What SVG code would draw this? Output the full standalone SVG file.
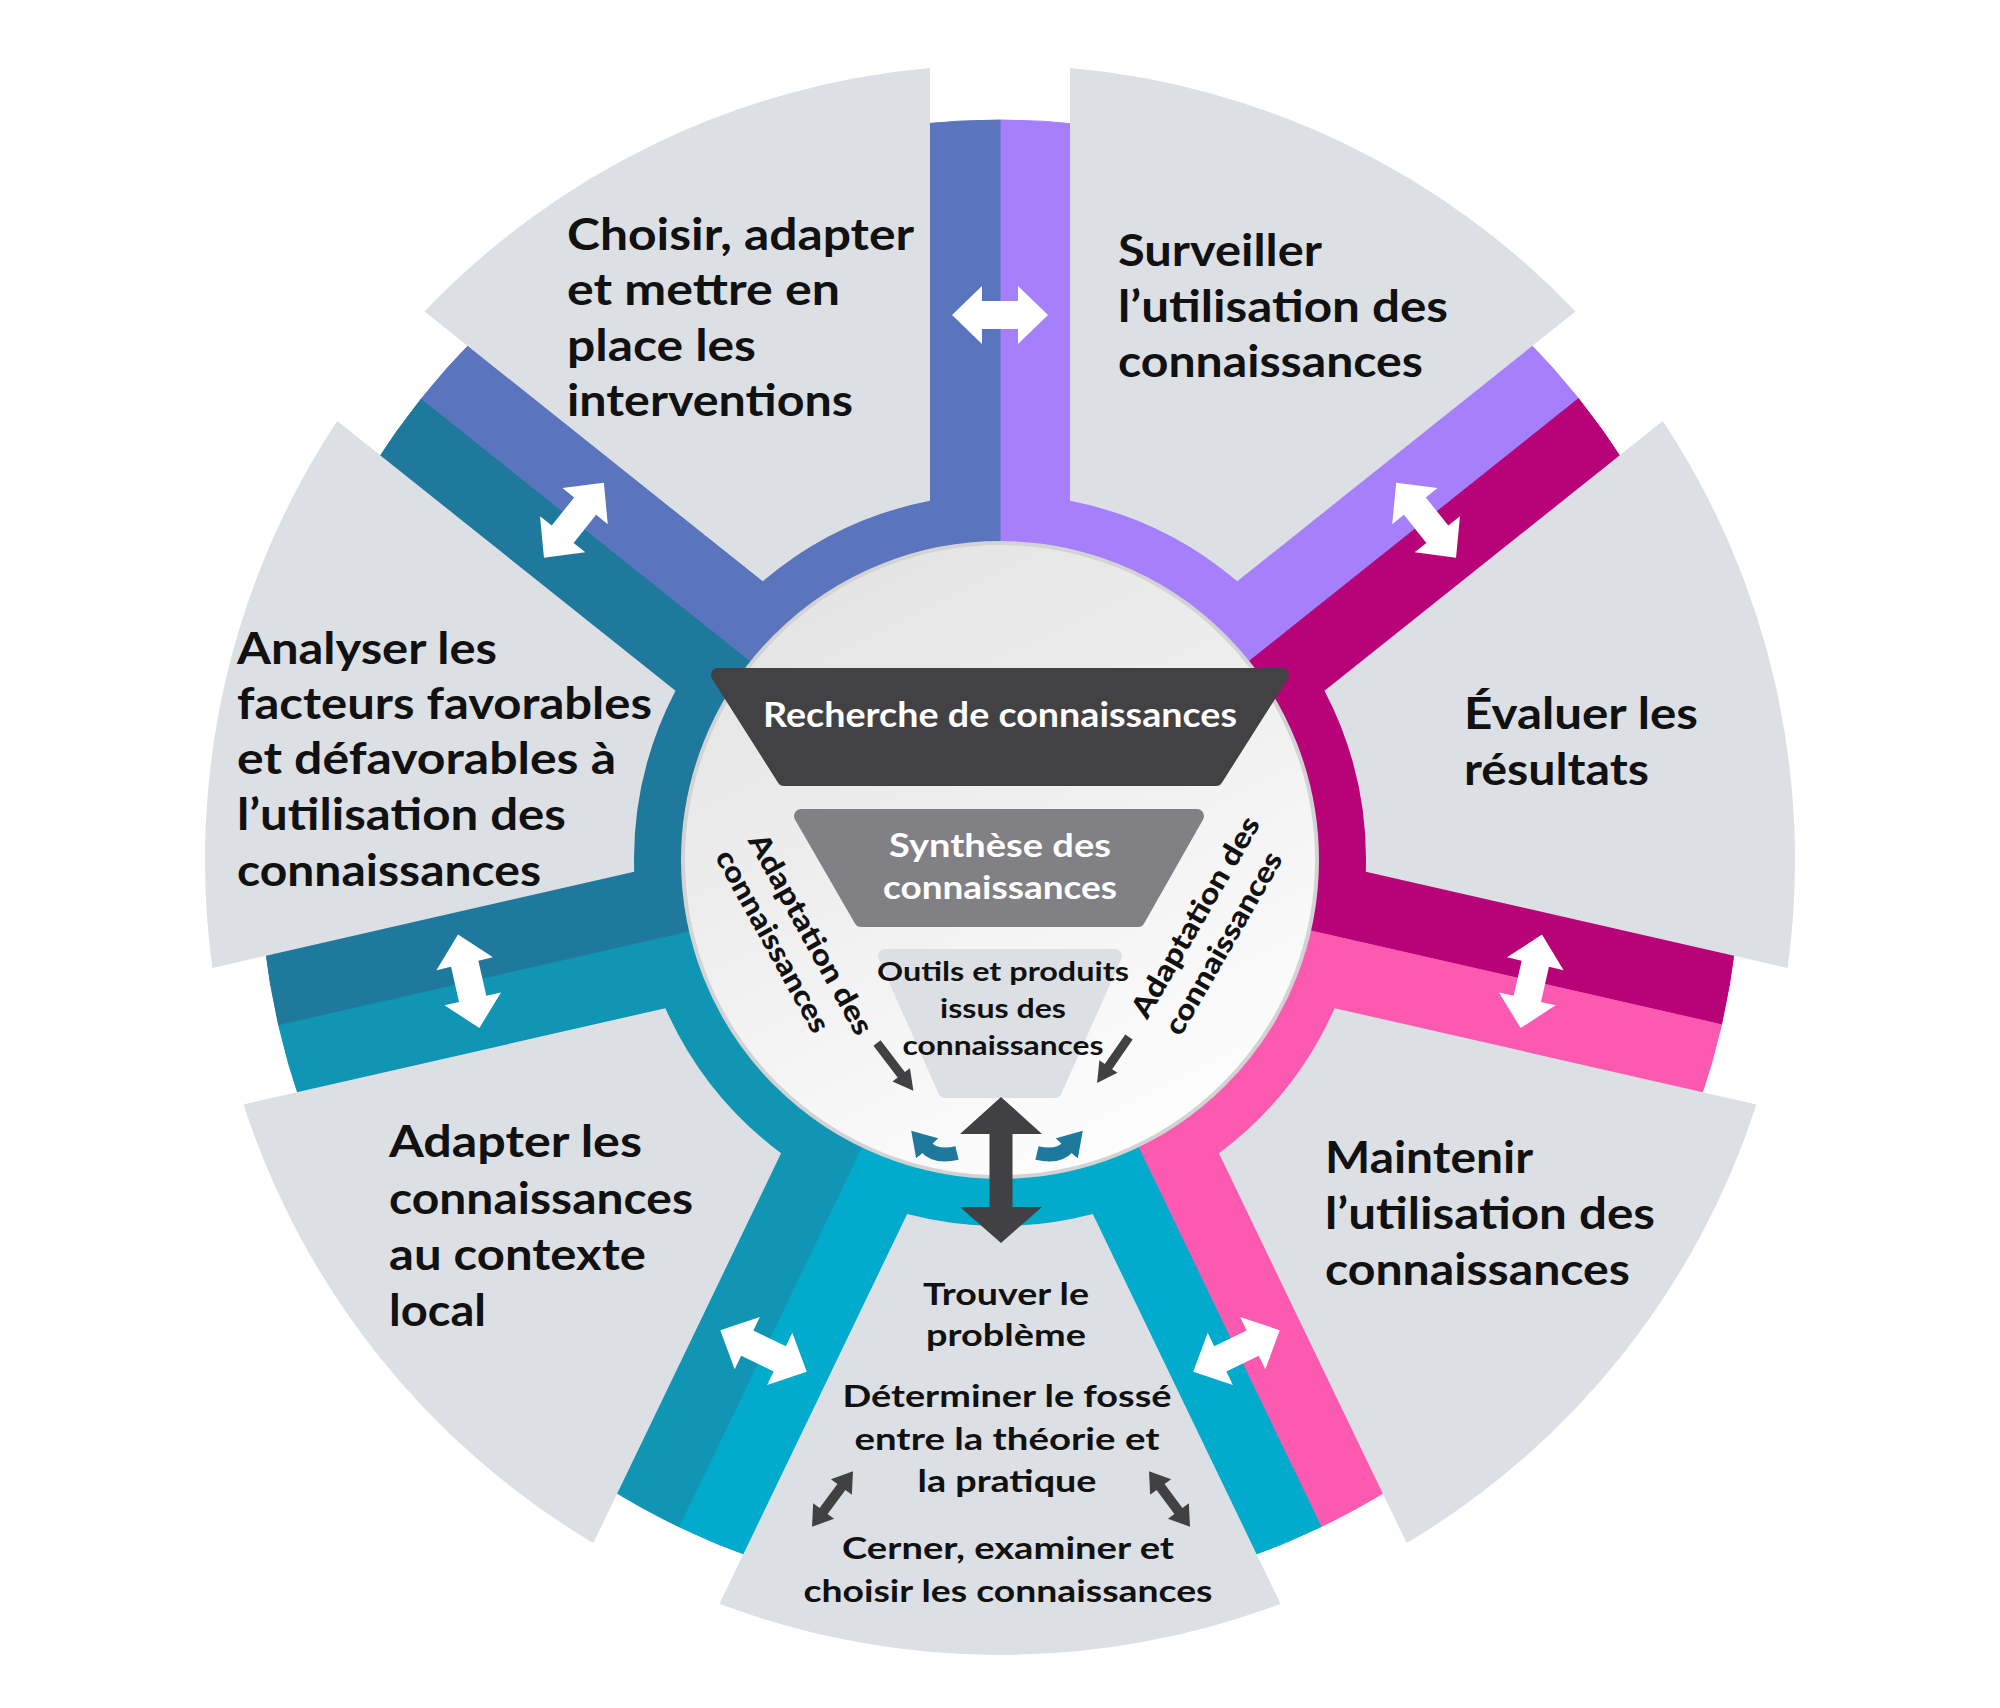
<svg xmlns="http://www.w3.org/2000/svg" width="2000" height="1708" viewBox="0 0 2000 1708">
<style>
.sector{fill:#DCE0E4}
text{font-family:Lato,"Open Sans","Liberation Sans",sans-serif;font-weight:700}
.lbl{font-size:43px;fill:#111}
.sm{font-size:30.5px;fill:#111;text-anchor:middle}
.inw{fill:#fff;text-anchor:middle}
.rot{font-weight:900;font-size:29px;fill:#111;text-anchor:middle}
.warr{fill:#fff}
.darr{fill:#414143}
.barr{fill:none;stroke:#1F799D;stroke-width:14}
</style>
<defs>
<linearGradient id="wg" x1="0.25" y1="0" x2="0.75" y2="1">
<stop offset="0" stop-color="#E3E3E4"/>
<stop offset="1" stop-color="#FFFFFF"/>
</linearGradient>
<polygon id="wa" points="-48,0 -18,-29 -18,-14 18,-14 18,-29 48,0 18,29 18,14 -18,14 -18,29"/>
<marker id="bh" viewBox="0 0 24 30" refX="2" refY="15" markerWidth="24" markerHeight="30" markerUnits="userSpaceOnUse" orient="auto">
<path d="M0,0 L24,15 L0,30 z" fill="#1F799D"/>
</marker>
</defs>
<rect width="2000" height="1708" fill="#fff"/>
<g id="ring">
<path d="M1000,860 L1000,120 A740,740 0 0 1 1578.55,398.62 Z" fill="#A57FFC" stroke="#A57FFC"/>
<path d="M1000,860 L1578.55,398.62 A740,740 0 0 1 1721.45,1024.66 Z" fill="#B80378" stroke="#B80378"/>
<path d="M1000,860 L1721.45,1024.66 A740,740 0 0 1 1321.07,1526.72 Z" fill="#FC5AB0" stroke="#FC5AB0"/>
<path d="M1000,860 L1321.07,1526.72 A740,740 0 0 1 678.93,1526.72 Z" fill="#02ABCB" stroke="#02ABCB"/>
<path d="M1000,860 L678.93,1526.72 A740,740 0 0 1 278.55,1024.66 Z" fill="#1095B5" stroke="#1095B5"/>
<path d="M1000,860 L278.55,1024.66 A740,740 0 0 1 421.45,398.62 Z" fill="#1F799D" stroke="#1F799D"/>
<path d="M1000,860 L421.45,398.62 A740,740 0 0 1 1000,120 Z" fill="#5A74BD" stroke="#5A74BD"/>
</g>
<g id="choisir">
<path class="sector" d="M762.77,581.29 L424.5,311.52 A795,795 0 0 1 930,68.09 L930,500.76 A366,366 0 0 0 762.77,581.29 Z"/>
<text class="lbl" x="567" y="250" textLength="347" lengthAdjust="spacingAndGlyphs">Choisir, adapter</text>
<text class="lbl" x="567" y="305" textLength="273" lengthAdjust="spacingAndGlyphs">et mettre en</text>
<text class="lbl" x="567" y="361" textLength="189" lengthAdjust="spacingAndGlyphs">place les</text>
<text class="lbl" x="567" y="416" textLength="286" lengthAdjust="spacingAndGlyphs">interventions</text>
</g>
<g id="surveiller">
<path class="sector" d="M1070,500.76 L1070,68.09 A795,795 0 0 1 1575.5,311.52 L1237.23,581.29 A366,366 0 0 0 1070,500.76 Z"/>
<text class="lbl" x="1118" y="266" textLength="204" lengthAdjust="spacingAndGlyphs">Surveiller</text>
<text class="lbl" x="1118" y="322" textLength="330" lengthAdjust="spacingAndGlyphs">l’utilisation des</text>
<text class="lbl" x="1118" y="377" textLength="305" lengthAdjust="spacingAndGlyphs">connaissances</text>
</g>
<g id="evaluer">
<path class="sector" d="M1324.51,690.75 L1662.78,420.98 A795,795 0 0 1 1787.64,967.96 L1365.81,871.69 A366,366 0 0 0 1324.51,690.75 Z"/>
<text class="lbl" x="1464" y="729" textLength="234" lengthAdjust="spacingAndGlyphs">Évaluer les</text>
<text class="lbl" x="1464" y="785" textLength="185" lengthAdjust="spacingAndGlyphs">résultats</text>
</g>
<g id="maintenir">
<path class="sector" d="M1334.65,1008.19 L1756.48,1104.46 A795,795 0 0 1 1406.67,1543.12 L1218.94,1153.3 A366,366 0 0 0 1334.65,1008.19 Z"/>
<text class="lbl" x="1325" y="1173" textLength="208" lengthAdjust="spacingAndGlyphs">Maintenir</text>
<text class="lbl" x="1325" y="1229" textLength="330" lengthAdjust="spacingAndGlyphs">l’utilisation des</text>
<text class="lbl" x="1325" y="1285" textLength="305" lengthAdjust="spacingAndGlyphs">connaissances</text>
</g>
<g id="trouver">
<path class="sector" d="M1092.8,1214.04 L1280.53,1603.86 A795,795 0 0 1 719.47,1603.86 L907.2,1214.04 A366,366 0 0 0 1092.8,1214.04 Z"/>
<text class="sm" x="1006" y="1305" textLength="166" lengthAdjust="spacingAndGlyphs">Trouver le</text>
<text class="sm" x="1006" y="1346" textLength="160" lengthAdjust="spacingAndGlyphs">problème</text>
<text class="sm" x="1007" y="1407" textLength="329" lengthAdjust="spacingAndGlyphs">Déterminer le fossé</text>
<text class="sm" x="1007" y="1450" textLength="305" lengthAdjust="spacingAndGlyphs">entre la théorie et</text>
<text class="sm" x="1007" y="1492" textLength="179" lengthAdjust="spacingAndGlyphs">la pratique</text>
<text class="sm" x="1008" y="1559" textLength="332" lengthAdjust="spacingAndGlyphs">Cerner, examiner et</text>
<text class="sm" x="1008" y="1602" textLength="409" lengthAdjust="spacingAndGlyphs">choisir les connaissances</text>
</g>
<g id="adapter">
<path class="sector" d="M781.06,1153.3 L593.33,1543.12 A795,795 0 0 1 243.52,1104.46 L665.35,1008.19 A366,366 0 0 0 781.06,1153.3 Z"/>
<text class="lbl" x="389" y="1157" textLength="253" lengthAdjust="spacingAndGlyphs">Adapter les</text>
<text class="lbl" x="389" y="1214" textLength="304" lengthAdjust="spacingAndGlyphs">connaissances</text>
<text class="lbl" x="389" y="1270" textLength="257" lengthAdjust="spacingAndGlyphs">au contexte</text>
<text class="lbl" x="389" y="1326" textLength="97" lengthAdjust="spacingAndGlyphs">local</text>
</g>
<g id="analyser">
<path class="sector" d="M634.19,871.69 L212.36,967.96 A795,795 0 0 1 337.22,420.98 L675.49,690.75 A366,366 0 0 0 634.19,871.69 Z"/>
<text class="lbl" x="237" y="664" textLength="260" lengthAdjust="spacingAndGlyphs">Analyser les</text>
<text class="lbl" x="237" y="719" textLength="415" lengthAdjust="spacingAndGlyphs">facteurs favorables</text>
<text class="lbl" x="237" y="774" textLength="379" lengthAdjust="spacingAndGlyphs">et défavorables à</text>
<text class="lbl" x="237" y="830" textLength="329" lengthAdjust="spacingAndGlyphs">l’utilisation des</text>
<text class="lbl" x="237" y="886" textLength="304" lengthAdjust="spacingAndGlyphs">connaissances</text>
</g>
<g id="centre">
<circle cx="1000" cy="860" r="317" fill="url(#wg)" stroke="#D3D3D4" stroke-width="4"/>
</g>
<g id="recherche">
<polygon points="718,675 1282,675 1216,779 784,779" fill="#424244" stroke="#424244" stroke-width="14" stroke-linejoin="round"/>
<text class="inw" x="1000" y="727" font-size="34" textLength="474" lengthAdjust="spacingAndGlyphs">Recherche de connaissances</text>
</g>
<g id="synthese">
<polygon points="801,816 1197,816 1138,920 861,920" fill="#808085" stroke="#808085" stroke-width="14" stroke-linejoin="round"/>
<text class="inw" x="1000" y="857" font-size="32" textLength="222" lengthAdjust="spacingAndGlyphs">Synthèse des</text>
<text class="inw" x="1000" y="899" font-size="32" textLength="234" lengthAdjust="spacingAndGlyphs">connaissances</text>
</g>
<g id="outils">
<polygon points="885,956 1115,956 1055,1091 945,1091" fill="#DCE0E4" stroke="#DCE0E4" stroke-width="14" stroke-linejoin="round"/>
<text class="sm" x="1003" y="981" style="font-size:27.5px" textLength="252" lengthAdjust="spacingAndGlyphs">Outils et produits</text>
<text class="sm" x="1003" y="1018" style="font-size:27.5px" textLength="126" lengthAdjust="spacingAndGlyphs">issus des</text>
<text class="sm" x="1003" y="1055" style="font-size:27.5px" textLength="201" lengthAdjust="spacingAndGlyphs">connaissances</text>
</g>
<g id="adaptation-gauche">
<text class="rot" transform="translate(802,939) rotate(61)" textLength="225" lengthAdjust="spacingAndGlyphs">Adaptation des</text>
<text class="rot" transform="translate(764,946) rotate(61)" textLength="204" lengthAdjust="spacingAndGlyphs">connaissances</text>
</g>
<g id="adaptation-droite">
<text class="rot" transform="translate(1204,922) rotate(-60)" textLength="227" lengthAdjust="spacingAndGlyphs">Adaptation des</text>
<text class="rot" transform="translate(1232,948) rotate(-60)" textLength="206" lengthAdjust="spacingAndGlyphs">connaissances</text>
</g>
<g id="connectors">
<use href="#wa" class="warr" transform="translate(1000,315)"/>
<use href="#wa" class="warr" transform="translate(1426.1,520.2) rotate(51.429)"/>
<use href="#wa" class="warr" transform="translate(1531.3,981.3) rotate(102.857)"/>
<use href="#wa" class="warr" transform="translate(1236.5,1351) rotate(154.286)"/>
<use href="#wa" class="warr" transform="translate(763.5,1351) rotate(205.714)"/>
<use href="#wa" class="warr" transform="translate(468.7,981.3) rotate(257.143)"/>
<use href="#wa" class="warr" transform="translate(573.9,520.2) rotate(308.571)"/>
<polygon class="darr" points="1001,1097 1042,1134 1012.5,1134 1012.5,1207 1042,1207 1001,1243 960,1207 989.5,1207 989.5,1134 960,1134"/>
<polygon class="darr" transform="translate(877,1043) rotate(52.7)" points="0,-4.5 40,-4.5 40,-11 60,0 40,11 40,4.5 0,4.5"/>
<polygon class="darr" transform="translate(1129,1037) rotate(124.8)" points="0,-4.5 36,-4.5 36,-11 56,0 36,11 36,4.5 0,4.5"/>
<polygon class="darr" transform="translate(832.5,1499) rotate(-53.6)" points="-34.5,0 -15,-13 -15,-5 15,-5 15,-13 34.5,0 15,13 15,5 -15,5 -15,13"/>
<polygon class="darr" transform="translate(1169.5,1499) rotate(53.6)" points="-34.5,0 -15,-13 -15,-5 15,-5 15,-13 34.5,0 15,13 15,5 -15,5 -15,13"/>
<path class="barr" d="M957,1153 Q936,1158 926,1147" marker-end="url(#bh)"/>
<path class="barr" d="M1037,1153 Q1058,1158 1068,1147" marker-end="url(#bh)"/>
</g>
</svg>
